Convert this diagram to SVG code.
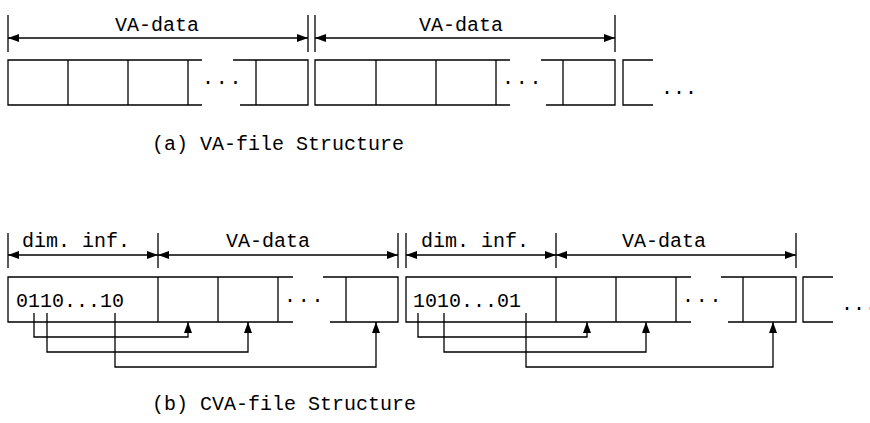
<svg xmlns="http://www.w3.org/2000/svg" width="870" height="423" viewBox="0 0 870 423">
<style>
.l{stroke:#000;stroke-width:1.3;fill:none}
.t{font-family:"Liberation Mono","Courier New",monospace;font-size:20px;fill:#000}
.d{font-family:"Liberation Mono","Courier New",monospace;font-size:20px;fill:#000;letter-spacing:1.8px}
.a{marker-start:url(#ah);marker-end:url(#ah)}
.e{marker-end:url(#ah)}
</style>
<defs>
<marker id="ah" markerUnits="userSpaceOnUse" markerWidth="11" markerHeight="8" refX="11" refY="4" orient="auto-start-reverse" viewBox="0 0 11 8">
<path d="M0,0 L11,4 L0,8 Z" fill="#000"/>
</marker>
</defs>
<rect width="870" height="423" fill="#fff"/>

<g id="dims-a">
<path class="l" d="M8,15V52M308,15V52M315,15V52M615,15V52"/>
<line class="l a" x1="8" y1="38" x2="308" y2="38"/>
<line class="l a" x1="315" y1="38" x2="615" y2="38"/>
<text class="t" x="115" y="31">VA-data</text>
<text class="t" x="419" y="31">VA-data</text>
</g>

<g id="va-record-1">
<path class="l" d="M202,60H8V105H202M233,60H308V105H240M68,60V105M128,60V105M188,60V105M256,60V105"/>
<text class="d" x="202" y="84">...</text>
</g>
<g id="va-record-2">
<path class="l" d="M510,60H315V105H510M541,60H615V105H546M376,60V105M436,60V105M496,60V105M563,60V105"/>
<text class="d" x="502" y="84">...</text>
</g>
<g id="va-record-3">
<path class="l" d="M653,60H623V105H653"/>
<text class="t" x="661" y="94">...</text>
</g>
<text id="caption-a" class="t" x="152" y="150">(a) VA-file Structure</text>

<g id="dims-b">
<path class="l" d="M8,233V268M158,233V268M398,233V268M406,233V268M556,233V268M796,233V268"/>
<line class="l a" x1="8" y1="255" x2="158" y2="255"/>
<line class="l a" x1="158" y1="255" x2="398" y2="255"/>
<line class="l a" x1="406" y1="255" x2="556" y2="255"/>
<line class="l a" x1="556" y1="255" x2="796" y2="255"/>
<text class="t" x="22" y="247">dim. inf.</text>
<text class="t" x="226" y="247">VA-data</text>
<text class="t" x="421" y="247">dim. inf.</text>
<text class="t" x="622" y="247">VA-data</text>
</g>

<g id="cva-record-1">
<path class="l" d="M293,277H8V322H293M323,277H398V322H330M158,277V322M218,277V322M278,277V322M346,277V322"/>
<text class="t" x="16" y="307">0110...10</text>
<text class="d" x="284" y="302">...</text>
</g>
<g id="cva-record-2">
<path class="l" d="M691,277H406V322H691M721,277H796V322H728M556,277V322M616,277V322M676,277V322M743,277V322"/>
<text class="t" x="413" y="307">1010...01</text>
<text class="d" x="682" y="302">...</text>
</g>
<g id="cva-record-3">
<path class="l" d="M833,277H803V322H833"/>
<text class="t" x="841" y="310">...</text>
</g>

<g id="connectors">
<path class="l e" d="M34,313V337H188V322"/>
<path class="l e" d="M47,313V352H248V322"/>
<path class="l e" d="M115,313V367H376V322"/>
<path class="l e" d="M418,313V337H587V322"/>
<path class="l e" d="M444,313V352H646V322"/>
<path class="l e" d="M526,313V367H773V322"/>
</g>
<text id="caption-b" class="t" x="152" y="410">(b) CVA-file Structure</text>
</svg>
